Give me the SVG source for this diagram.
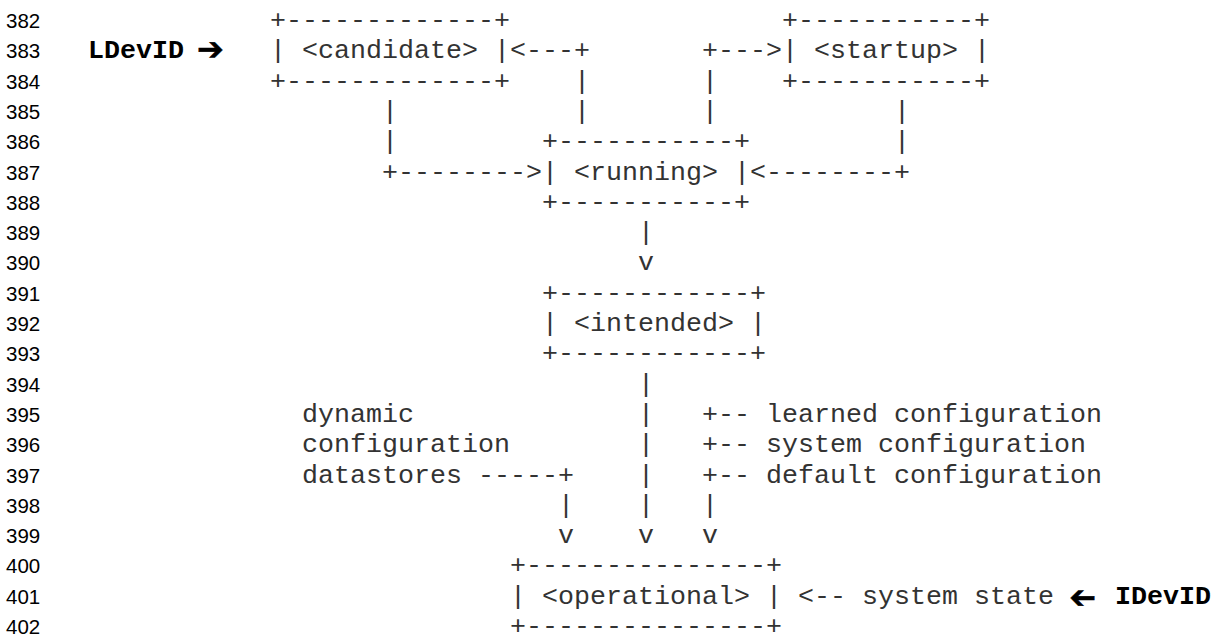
<svg xmlns="http://www.w3.org/2000/svg" width="1212" height="637" viewBox="0 0 1212 637">
<style>
.ln{font-family:"Liberation Sans",Arial,sans-serif;font-size:20.5px;fill:#000}
.m{font-family:"Liberation Mono","Courier New",monospace;font-size:26.67px;fill:#333;white-space:pre}
.b{font-family:"Liberation Mono","Courier New",monospace;font-size:26.67px;font-weight:bold;fill:#000}
.ar{font-family:"DejaVu Sans",sans-serif;font-size:32px;fill:#000;stroke:#000;stroke-width:0.6}
</style>
<rect width="1212" height="637" fill="#fff"/>
<g id="line-numbers" class="ln">
<text x="6" y="28">382</text>
<text x="6" y="58.3">383</text>
<text x="6" y="88.6">384</text>
<text x="6" y="118.9">385</text>
<text x="6" y="149.2">386</text>
<text x="6" y="179.5">387</text>
<text x="6" y="209.8">388</text>
<text x="6" y="240.1">389</text>
<text x="6" y="270.4">390</text>
<text x="6" y="300.7">391</text>
<text x="6" y="331">392</text>
<text x="6" y="361.3">393</text>
<text x="6" y="391.6">394</text>
<text x="6" y="421.9">395</text>
<text x="6" y="452.2">396</text>
<text x="6" y="482.5">397</text>
<text x="6" y="512.8">398</text>
<text x="6" y="543.1">399</text>
<text x="6" y="573.4">400</text>
<text x="6" y="603.7">401</text>
<text x="6" y="634">402</text>
</g>
<g id="ldevid">
<text class="b" x="88" y="58.3">LDevID</text>
<text class="ar" x="197" y="59.5">➔</text>
</g>
<g id="candidate" class="m">
<text x="270" y="28">+-------------+</text>
<text x="270" y="58.3">| &lt;candidate&gt; |</text>
<text x="270" y="88.6">+-------------+</text>
</g>
<g id="startup" class="m">
<text x="782" y="28">+-----------+</text>
<text x="782" y="58.3">| &lt;startup&gt; |</text>
<text x="782" y="88.6">+-----------+</text>
</g>
<g id="running" class="m">
<text x="542" y="149.2">+-----------+</text>
<text x="542" y="179.5">| &lt;running&gt; |</text>
<text x="542" y="209.8">+-----------+</text>
</g>
<g id="intended" class="m">
<text x="542" y="300.7">+------------+</text>
<text x="542" y="331">| &lt;intended&gt; |</text>
<text x="542" y="361.3">+------------+</text>
</g>
<g id="operational" class="m">
<text x="510" y="573.4">+---------------+</text>
<text x="510" y="603.7">| &lt;operational&gt; |</text>
<text x="510" y="634">+---------------+</text>
</g>
<g id="dynamic-datastores" class="m">
<text x="302" y="421.9">dynamic</text>
<text x="302" y="452.2">configuration</text>
<text x="302" y="482.5">datastores</text>
</g>
<g id="config-sources" class="m">
<text x="702" y="421.9">+-- learned configuration</text>
<text x="702" y="452.2">+-- system configuration</text>
<text x="702" y="482.5">+-- default configuration</text>
</g>
<g id="system-state">
<text class="m" x="798" y="603.7">&lt;-- system state</text>
<text class="ar" transform="rotate(180 1080 596.5)" x="1064" y="605">➔</text>
<text class="b" x="1115" y="603.7">IDevID</text>
</g>
<g id="connectors" class="m">
<text x="510" y="58.3">&lt;---+</text>
<text x="702" y="58.3">+---&gt;</text>
<text x="574" y="88.6">|</text>
<text x="702" y="88.6">|</text>
<text x="382" y="118.9">|</text>
<text x="574" y="118.9">|</text>
<text x="702" y="118.9">|</text>
<text x="894" y="118.9">|</text>
<text x="382" y="149.2">|</text>
<text x="894" y="149.2">|</text>
<text x="382" y="179.5">+--------&gt;</text>
<text x="750" y="179.5">&lt;--------+</text>
<text x="638" y="240.1">|</text>
<text x="638" y="270.4">v</text>
<text x="638" y="391.6">|</text>
<text x="638" y="421.9">|</text>
<text x="638" y="452.2">|</text>
<text x="478" y="482.5">-----+</text>
<text x="638" y="482.5">|</text>
<text x="558" y="512.8">|</text>
<text x="638" y="512.8">|</text>
<text x="702" y="512.8">|</text>
<text x="558" y="543.1">v</text>
<text x="638" y="543.1">v</text>
<text x="702" y="543.1">v</text>
</g>
</svg>
